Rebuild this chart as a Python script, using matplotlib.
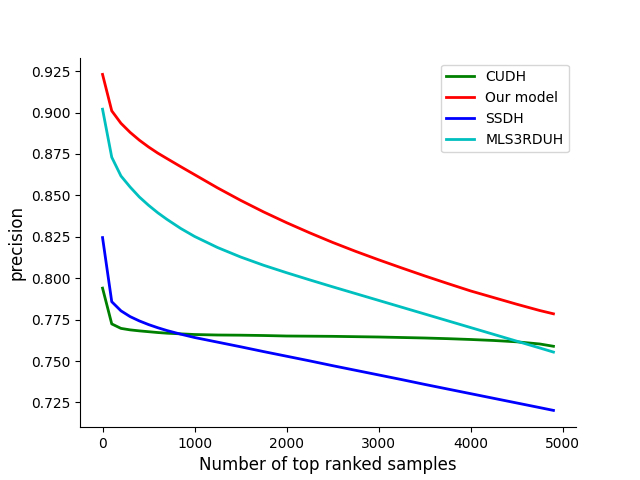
import matplotlib
matplotlib.use("Agg")
import matplotlib.pyplot as plt

x = [0, 100, 200, 300, 400, 500, 600, 700, 850, 1000, 1250, 1500, 1750, 2000, 2250,
     2500, 2750, 3000, 3250, 3500, 3750, 4000, 4250, 4500, 4750, 4900]
cudh = [0.794, 0.7724, 0.7697, 0.7688, 0.7682, 0.7677, 0.7672, 0.7668, 0.7664, 0.766, 0.7657, 0.7656, 0.7654,
        0.7651, 0.765, 0.7649, 0.7647, 0.7645, 0.7642, 0.7639, 0.7635, 0.763, 0.7624, 0.7616, 0.7603, 0.7589]
ours = [0.923, 0.901, 0.8935, 0.888, 0.8833, 0.8792, 0.8755, 0.8722, 0.8673, 0.8625, 0.8545, 0.847, 0.840,
        0.8335, 0.8274, 0.8216, 0.8162, 0.8111, 0.8062, 0.8014, 0.7968, 0.7923, 0.7883, 0.7843, 0.7805, 0.7785]
ssdh = [0.8245, 0.7858, 0.7803, 0.7768, 0.7742, 0.772, 0.7701, 0.7684, 0.7662, 0.7642, 0.7614, 0.7586, 0.7557,
        0.7529, 0.7501, 0.7472, 0.7444, 0.7416, 0.7388, 0.7359, 0.7331, 0.7303, 0.7275, 0.7247, 0.7219, 0.7202]
mls = [0.902, 0.873, 0.8617, 0.855, 0.849, 0.844, 0.8395, 0.8355, 0.830, 0.8252, 0.8185, 0.8128, 0.8078,
       0.8033, 0.799, 0.7948, 0.7907, 0.7866, 0.7825, 0.7784, 0.7743, 0.7702, 0.7661, 0.762, 0.7579, 0.7554]

fig, ax = plt.subplots(figsize=(6.4, 4.8), dpi=100)
ax.plot(x, cudh, color='g', lw=2, label='CUDH')
ax.plot(x, ours, color='r', lw=2, label='Our model')
ax.plot(x, ssdh, color='b', lw=2, label='SSDH')
ax.plot(x, mls, color='c', lw=2, label='MLS3RDUH')
ax.spines['top'].set_visible(False)
ax.spines['right'].set_visible(False)
ax.set_xlabel('Number of top ranked samples', fontsize=12)
ax.set_ylabel('precision', fontsize=12)
ax.legend(loc='upper right')
fig.savefig('out.png')
